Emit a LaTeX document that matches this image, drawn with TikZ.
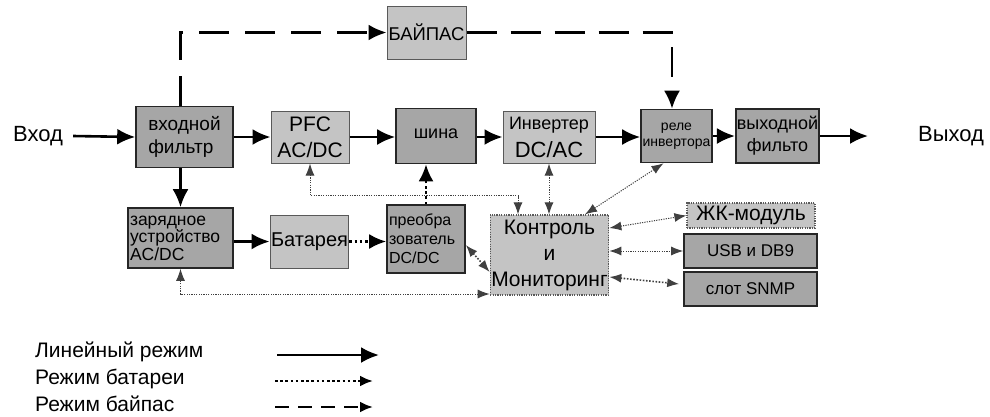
\documentclass[tikz,border=0pt]{standalone}
\usepackage{fontspec}
\setmainfont{Liberation Sans}
\usetikzlibrary{shapes,arrows,arrows.meta}
\definecolor{boxdark}{HTML}{A6A6A6}
\definecolor{boxlight}{HTML}{C4C4C4}
\newcommand{\fsz}[2]{\fontsize{#1}{#2}\selectfont}

\begin{document}
\begin{tikzpicture}[x=1pt,y=-1pt,
    block_dark/.style ={rectangle, draw=black!85, line width=1.6pt, fill=boxdark,
      inner sep=1pt, align=center},
    block_light/.style ={rectangle, draw=black!65, line width=1pt, fill=boxlight,
      inner sep=1pt, align=center},
    block_dotted/.style ={block_light, line width=1.2pt, dash pattern=on 1.2pt off 1.2pt},
    label_text/.style ={inner sep=0pt, font=\fsz{21}{24}},
    line_main/.style ={draw, line width=2.6pt, -{Latex[length=18pt,width=16pt]}},
    line_batt/.style ={draw, line width=2.6pt, dash pattern=on 2.6pt off 2.6pt,
      -{Latex[length=17pt,width=15pt]}},
    line_bypass/.style ={draw, line width=2.6pt, dash pattern=on 30pt off 16pt,
      -{Latex[length=18pt,width=16pt]}},
    line_ctrl/.style ={draw=black!75, line width=1pt, dash pattern=on 1.2pt off 1.2pt,
      {Latex[length=12pt,width=9pt]}-{Latex[length=12pt,width=9pt]}},
    line_ctrl_thick/.style ={line_ctrl, line width=1.6pt, dash pattern=on 1.6pt off 1.6pt}]
    \useasboundingbox (0,0) rectangle (990,416);
    % top row: line path
    \node[label_text, font=\fsz{22}{24}] (input) at (38,136) {Вход};
    \node[block_dark, minimum width=97pt, minimum height=61pt, align=left,
      font=\fsz{19}{23}] (in_filter) at (184.5,137) {входной\\фильтр};
    \node[block_light, minimum width=78pt, minimum height=52pt,
      font=\fsz{21}{26}] (pfc) at (310,137) {PFC\\AC/DC};
    \node[block_dark, minimum width=80pt, minimum height=55pt,
      font=\fsz{18}{20}] (bus) at (436,136) {\raisebox{5pt}{шина}};
    \node[block_light, minimum width=92pt, minimum height=52pt,
      font=\fsz{18}{28}] (inverter) at (549,137) {Инвертер\\{\fsz{22}{28}DC/AC}};
    \node[block_dark, minimum width=71pt, minimum height=53pt,
      font=\fsz{14}{16}] (relay) at (676.5,136) {реле\\инвертора};
    \node[block_dark, minimum width=81pt, minimum height=54pt,
      font=\fsz{18}{22}] (out_filter) at (777.5,136) {выходной\\фильто};
    \node[label_text, font=\fsz{22}{24}] (output) at (951,136) {Выход};
    \node[block_light, minimum width=79pt, minimum height=53pt,
      font=\fsz{18.5}{20}] (bypass) at (426.5,32.5) {БАЙПАС};
    % bottom row: battery path and control
    \node[block_dark, minimum width=105pt, minimum height=60pt, text width=101pt,
      align=left, font=\fsz{17.5}{16}] (charger) at (180.5,238) {зарядное\\устройство\\AC/DC};
    \node[block_light, minimum width=77pt, minimum height=53pt,
      font=\fsz{20}{22}] (battery) at (309.5,241.5) {Батарея};
    \node[block_dark, minimum width=78pt, minimum height=68pt, text width=74pt,
      align=left, font=\fsz{16}{19}] (dcdc) at (426,239) {преобра\\зователь\\DC/DC};
    \node[block_dotted, minimum width=117pt, minimum height=80pt,
      font=\fsz{21}{26}] (control) at (549.5,255) {Контроль\\и\\Мониторинг};
    \node[block_dotted, minimum width=128pt, minimum height=25pt,
      font=\fsz{21}{22}] (lcd) at (751,215.5) {ЖК-модуль};
    \node[block_dark, minimum width=133pt, minimum height=34pt,
      font=\fsz{17}{20}] (usb) at (750.5,251) {USB и DB9};
    \node[block_dark, minimum width=133pt, minimum height=34pt,
      font=\fsz{17}{20}] (snmp) at (750.5,289) {слот SNMP};
    % legend
    \node[label_text, anchor=west] (leg_line) at (35,352) {Линейный режим};
    \node[label_text, anchor=west] (leg_batt) at (35,379) {Режим батареи};
    \node[label_text, anchor=west] (leg_bypass) at (35,404) {Режим байпас};
    \coordinate (leg_line_a) at (277,355);
    \coordinate (leg_line_b) at (379,355);
    \coordinate (leg_batt_a) at (275,381);
    \coordinate (leg_batt_b) at (373,381);
    \coordinate (leg_bypass_a) at (275,407);
    \coordinate (leg_bypass_b) at (373,407);

    % line mode
    \draw[line_main] (input.east) ++(10,0) -- (in_filter.west);
    \draw[line_main] (in_filter.east) -- (pfc.west);
    \draw[line_main] (pfc.east) -- (pfc.east -| bus.west);
    \draw[line_main] (bus.east |- inverter.west) -- (inverter.west);
    \draw[line_main] (inverter.east) -- (inverter.east -| relay.west);
    \draw[line_main] (relay.east) -- (out_filter.west);
    \draw[line_main] (out_filter.east) -- ++(48,0);
    \draw[line_main] (in_filter.south -| charger.north) -- (charger.north);
    \draw[line_main] (charger.east |- battery.west) -- (battery.west);
    % battery mode
    \draw[line_batt] (battery.east) -- (battery.east -| dcdc.west);
    \draw[line_batt] (dcdc.north) -- (dcdc.north |- bus.south);
    % bypass mode
    \draw[line_bypass] (in_filter.north -| charger.north) |- (bypass.west);
    \draw[line_bypass, dash pattern=on 30pt off 14pt]
      (bypass.east) -| ([xshift=-4.5pt]relay.north);
    % control links
    \draw[line_ctrl] (pfc.south) -- ++(0,32) -| ([xshift=-31.5pt]control.north);
    \draw[line_ctrl] (inverter.south) -- (inverter.south |- control.north);
    \draw[line_ctrl] ([xshift=-13pt]relay.south) -- ([xshift=35.5pt]control.north);
    \draw[line_ctrl] ([yshift=27pt]control.east) -- (lcd.west);
    \draw[line_ctrl] (usb.west -| control.east) -- (usb.west);
    \draw[line_ctrl_thick] ([yshift=-22pt]control.east) -- ([xshift=-4pt,yshift=5pt]snmp.west);
    \draw[line_ctrl_thick] ([yshift=-6pt]dcdc.east) -- ([yshift=-17pt]control.west);
    \draw[line_ctrl] ([yshift=-39pt]control.west) -| (charger.south);

    % legend arrows
    \draw[line_main] (leg_line_a) -- (leg_line_b);
    \draw[line_batt, -{Latex[length=13pt,width=11pt]}] (leg_batt_a) -- (leg_batt_b);
    \draw[line_bypass, dash pattern=on 14pt off 9pt, -{Latex[length=13pt,width=11pt]}]
      (leg_bypass_a) -- (leg_bypass_b);
\end{tikzpicture}
\end{document}
